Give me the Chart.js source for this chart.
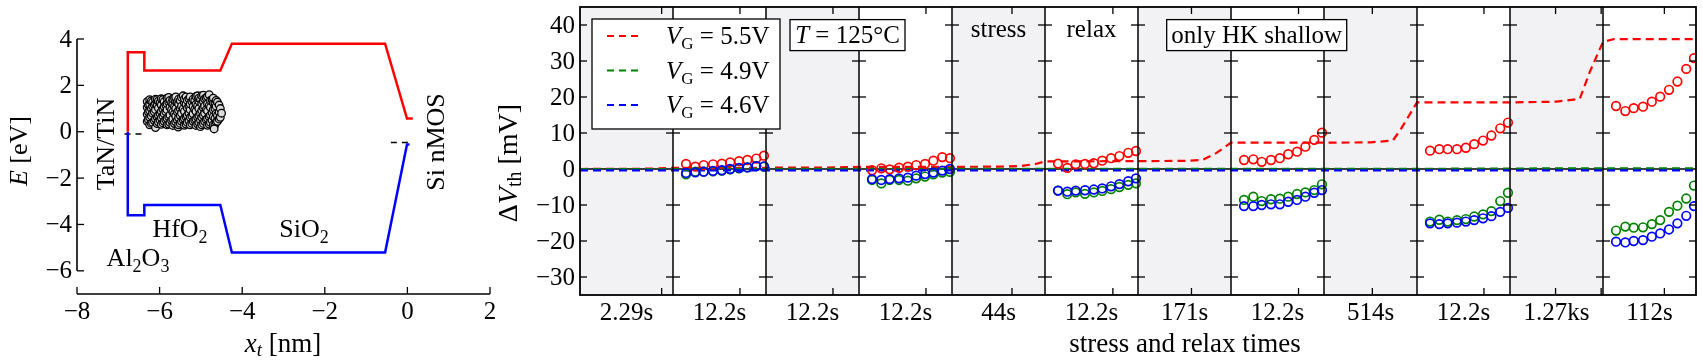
<!DOCTYPE html>
<html>
<head>
<meta charset="utf-8">
<script src="https://cdn.jsdelivr.net/npm/chart.js@4.4.1/dist/chart.umd.min.js"></script>
<style>
  body { margin: 0; background: #fff; width: 1703px; height: 363px; position: relative; overflow: hidden; }
  canvas { position: absolute; top: 0; }
  #band { left: 0; }
  #dvth { left: 480px; }
</style>
</head>
<body>
<canvas id="band" width="530" height="363"></canvas>
<canvas id="dvth" width="1223" height="363"></canvas>
<script>
// ---------- left: band diagram ----------
const xtTicks = [-8, -6, -4, -2, 0, 2];
const eTicks = [4, 2, 0, -2, -4, -6];
const condBand = [[-6.77, 0], [-6.77, 3.43], [-6.37, 3.43], [-6.37, 2.64], [-4.53, 2.64], [-4.25, 3.80],
                  [-0.54, 3.80], [-0.01, 0.57], [0.13, 0.57]];
const valBand = [[-6.77, 0], [-6.77, -3.60], [-6.37, -3.60], [-6.37, -3.16], [-4.53, -3.16], [-4.25, -5.21],
                 [-0.54, -5.21], [-0.01, -0.55], [0.05, -0.55]];
const fermiGate = [[-6.85, -0.1], [-6.42, -0.1]];
const fermiSub = [[-0.40, -0.47], [0.02, -0.47]];
// defect positions (x in nm, energy in eV)
const traps = [
  [-6.30,0.45],[-6.30,0.75],[-6.30,1.05],[-6.30,1.30],
  [-6.27,0.52],[-6.27,0.85],[-6.27,1.15],
  [-6.24,0.30],[-6.24,0.62],[-6.24,0.92],[-6.24,1.18],[-6.24,1.38],
  [-6.20,0.36],[-6.20,0.68],[-6.20,1.00],[-6.20,1.33],
  [-6.17,0.40],[-6.17,0.80],[-6.17,1.10],[-6.17,1.28],
  [-6.13,0.48],[-6.13,0.86],[-6.13,1.16],
  [-6.10,0.18],[-6.10,0.55],[-6.10,0.95],[-6.10,1.22],[-6.10,1.40],
  [-6.06,0.35],[-6.06,0.63],[-6.06,1.12],[-6.06,1.38],
  [-6.03,0.42],[-6.03,0.70],[-6.03,1.02],[-6.03,1.32],
  [-5.99,0.50],[-5.99,0.78],[-5.99,1.25],
  [-5.96,0.32],[-5.96,0.60],[-5.96,0.88],[-5.96,1.15],[-5.96,1.42],
  [-5.92,0.38],[-5.92,0.68],[-5.92,0.98],[-5.92,1.38],
  [-5.89,0.45],[-5.89,0.78],[-5.89,1.08],[-5.89,1.30],
  [-5.85,0.52],[-5.85,0.86],[-5.85,1.15],
  [-5.82,0.30],[-5.82,0.58],[-5.82,0.95],[-5.82,1.22],[-5.82,1.45],
  [-5.78,0.33],[-5.78,0.64],[-5.78,1.28],[-5.78,1.48],
  [-5.75,0.40],[-5.75,0.72],[-5.75,1.05],[-5.75,1.35],
  [-5.71,0.48],[-5.71,0.95],[-5.71,1.25],
  [-5.68,0.27],[-5.68,0.55],[-5.68,0.85],[-5.68,1.18],[-5.68,1.42],
  [-5.64,0.35],[-5.64,0.78],[-5.64,1.10],[-5.64,1.45],
  [-5.61,0.43],[-5.61,0.68],[-5.61,1.00],[-5.61,1.30],[-5.61,1.50],
  [-5.57,0.50],[-5.57,0.85],[-5.57,1.28],
  [-5.55,0.20],[-5.54,0.30],[-5.54,0.60],[-5.54,0.92],[-5.54,1.20],[-5.54,1.40],
  [-5.50,0.36],[-5.50,0.70],[-5.50,1.00],[-5.50,1.35],
  [-5.47,0.45],[-5.47,0.80],[-5.47,1.10],[-5.47,1.48],
  [-5.43,0.52],[-5.43,0.98],[-5.43,1.55],
  [-5.40,0.28],[-5.40,0.58],[-5.40,0.88],[-5.40,1.25],[-5.40,1.42],
  [-5.36,0.33],[-5.36,0.64],[-5.36,1.18],[-5.36,1.50],
  [-5.33,0.40],[-5.33,0.70],[-5.33,1.02],[-5.33,1.35],
  [-5.29,0.48],[-5.29,0.80],[-5.29,1.10],[-5.29,1.42],
  [-5.26,0.30],[-5.26,0.62],[-5.26,0.95],[-5.26,1.20],[-5.26,1.50],
  [-5.22,0.36],[-5.22,0.68],[-5.22,1.30],
  [-5.19,0.45],[-5.19,0.78],[-5.19,1.08],[-5.19,1.40],
  [-5.15,0.50],[-5.15,0.96],[-5.15,1.35],
  [-5.12,0.27],[-5.12,0.55],[-5.12,0.88],[-5.12,1.18],[-5.12,1.52],
  [-5.08,0.33],[-5.08,0.62],[-5.08,1.12],[-5.08,1.55],
  [-5.05,0.40],[-5.05,0.70],[-5.05,1.00],[-5.05,1.32],[-5.05,1.45],
  [-5.01,0.22],[-5.01,0.50],[-5.01,0.78],[-5.01,1.40],
  [-4.98,0.30],[-4.98,0.62],[-4.98,0.92],[-4.98,1.22],[-4.98,1.55],
  [-4.94,0.36],[-4.94,0.70],[-4.94,1.02],[-4.94,1.30],[-4.94,1.58],
  [-4.91,0.45],[-4.91,0.80],[-4.91,1.10],[-4.91,1.42],
  [-4.87,0.52],[-4.87,0.95],[-4.87,1.45],
  [-4.84,0.28],[-4.84,0.58],[-4.84,0.90],[-4.84,1.20],[-4.84,1.52],
  [-4.80,0.33],[-4.80,0.65],[-4.80,1.12],[-4.80,1.60],
  [-4.77,0.40],[-4.77,0.72],[-4.77,1.05],[-4.77,1.35],
  [-4.73,0.50],[-4.73,0.82],[-4.73,1.38],
  [-4.70,0.30],[-4.70,0.65],[-4.70,0.95],[-4.70,1.25],[-4.70,1.45],
  [-4.66,0.30],[-4.66,0.58],[-4.66,1.00],[-4.66,1.25],
  [-4.63,0.42],[-4.63,0.78],[-4.63,1.10],[-4.63,1.35],
  [-4.60,0.45],[-4.60,0.70],[-4.60,1.28],
  [-4.56,0.55],[-4.56,0.85],[-4.56,1.15],
  [-4.53,0.62],[-4.53,1.00],[-4.50,0.80],
  [-4.68,0.12]
];

// ---------- right: threshold voltage shift ----------
const panelLabels = ['2.29s', '12.2s', '12.2s', '12.2s', '44s', '12.2s', '171s', '12.2s', '514s', '12.2s', '1.27ks', '112s'];
const stressPanels = [0, 2, 4, 6, 8, 10];
const relaxPanels = [1, 3, 5, 7, 9, 11];
const relaxPos = [0.14, 0.24, 0.33, 0.43, 0.525, 0.615, 0.71, 0.80, 0.895, 0.978];
const timeTicks = [0.878, 1.72, 2.72, 3.72, 4.645, 5.73, 6.575, 7.726, 8.52, 9.72, 10.49, 10.98, 11.66];
const dvTicks = [40, 30, 20, 10, 0, -10, -20, -30];

const red55 = [
  [1.4, 0.65, 1.1, 1.3, 1.5, 1.85, 2.2, 2.5, 2.9, 3.7],
  [-0.35, 0.2, -0.1, 0.35, 0.65, 1.1, 1.4, 2.3, 3.3, 3.0],
  [1.5, 0.3, 1.3, 1.4, 1.6, 2.3, 3.0, 3.6, 4.5, 5.0],
  [2.5, 2.7, 2.0, 2.5, 3.0, 4.1, 4.8, 6.2, 8.1, 10.1],
  [5.1, 5.5, 5.5, 5.5, 5.9, 6.9, 7.9, 9.3, 11.3, 12.9],
  [17.5, 16.1, 16.9, 17.3, 18.7, 20.1, 22.0, 24.3, 27.8, 30.8]
];
const green49 = [
  [-1.5, -0.75, -0.75, -0.65, -0.45, -0.1, 0.2, 0.45, 0.8, 0.65],
  [-3.05, -4.0, -3.05, -3.05, -3.25, -2.6, -2.1, -1.5, -1.0, -0.8],
  [-6.0, -7.0, -6.5, -6.9, -6.5, -6.1, -5.6, -5.0, -4.4, -4.0],
  [-8.6, -7.7, -8.9, -8.4, -8.25, -7.7, -6.95, -6.5, -5.85, -4.25],
  [-14.6, -14.1, -14.6, -14.2, -13.9, -13.2, -12.6, -11.7, -8.9, -6.6],
  [-17.1, -16.0, -16.3, -16.2, -15.3, -14.2, -11.9, -10.2, -8.2, -4.6]
];
const blue46 = [
  [-1.1, -0.95, -0.75, -0.55, -0.35, 0.0, 0.3, 0.45, 0.8, 0.75],
  [-2.8, -3.05, -2.8, -2.6, -2.4, -1.85, -1.4, -1.0, -0.45, 0.0],
  [-6.0, -6.3, -6.0, -5.9, -5.7, -5.4, -4.8, -4.2, -3.4, -2.6],
  [-10.3, -10.3, -10.0, -9.8, -9.8, -9.1, -8.6, -7.7, -6.6, -5.85],
  [-15.1, -15.3, -15.1, -14.9, -14.6, -14.2, -13.7, -13.1, -11.9, -10.8],
  [-20.2, -20.4, -20.0, -19.75, -18.8, -17.9, -16.8, -15.1, -13.0, -10.3]
];
// model curves, [panel coordinate, mV]
const red55Model = [[0, 0], [0.6, 0.05], [0.85, 0.15], [1, 0.35], [2, 0.35], [2.6, 0.4], [2.85, 0.5], [3, 0.6],
  [4, 0.6], [4.5, 0.65], [4.73, 0.8], [4.9, 1.4], [5, 2.1], [6, 2.2], [6.5, 2.25], [6.69, 2.5], [6.84, 4.4], [7, 7.3],
  [8, 7.3], [8.5, 7.4], [8.74, 7.9], [8.82, 10.8], [9, 18.5], [10, 18.5], [10.5, 18.7], [10.75, 19.5], [10.86, 27.1],
  [11, 35.3], [11.12, 36.1], [12, 36.1]];
const green49Model = [[0, 0], [9, 0.05], [11, 0.2], [12, 0.2]];
const blue46Model = [[0, -0.4], [12, -0.4]];

const RED = '#ff0000', GREEN = '#008000', BLUE = '#0000ff';
const FAM = '"Liberation Serif", "DejaVu Serif", serif';
const TICK = 25;
const F = (size, style) => (style ? style + ' ' : '') + size + 'px ' + FAM;
const minus = v => (v < 0 ? '\u2212' + (-v) : String(v));
const xy = arr => arr.map(p => ({ x: p[0], y: p[1] }));

function richText(ctx, parts, x, y, align) {
  let w = 0;
  parts.forEach(p => { ctx.font = p[1]; w += ctx.measureText(p[0]).width; });
  let cx = align === 'center' ? x - w / 2 : x;
  parts.forEach(p => {
    ctx.font = p[1];
    ctx.fillText(p[0], cx, y + (p[2] || 0));
    cx += ctx.measureText(p[0]).width;
  });
}
function rotText(ctx, parts, cx, cy) {
  ctx.save();
  ctx.translate(cx, cy);
  ctx.rotate(-Math.PI / 2);
  ctx.textBaseline = 'middle';
  richText(ctx, parts, 0, 0, 'center');
  ctx.restore();
}
function seg(ctx, x1, y1, x2, y2) {
  ctx.beginPath(); ctx.moveTo(x1, y1); ctx.lineTo(x2, y2); ctx.stroke();
}
// tick labels drawn with the serif font, at the scales' pixel positions
function yLabels(ctx, scale, values, xRight) {
  ctx.font = F(TICK);
  ctx.textAlign = 'right';
  ctx.textBaseline = 'middle';
  values.forEach(v => ctx.fillText(minus(v), xRight, scale.getPixelForValue(v) + 1));
}
function xLabels(ctx, scale, values, texts, yBase) {
  ctx.font = F(TICK);
  ctx.textAlign = 'center';
  ctx.textBaseline = 'alphabetic';
  values.forEach((v, i) => ctx.fillText(texts[i], scale.getPixelForValue(v), yBase));
}

const bandDecor = {
  id: 'bandDecor',
  afterDraw(chart) {
    const { ctx, scales: { x, y } } = chart;
    ctx.save();
    ctx.strokeStyle = '#000';
    ctx.lineWidth = 1.6;
    const xl = x.getPixelForValue(-8), yb = y.getPixelForValue(-7);
    seg(ctx, xl, yb, x.getPixelForValue(2), yb);
    seg(ctx, xl, y.getPixelForValue(4), xl, y.getPixelForValue(-6));
    ctx.lineWidth = 1.3;
    eTicks.forEach(v => { const p = y.getPixelForValue(v); seg(ctx, xl, p, xl + 7, p); });
    xtTicks.forEach(v => { const p = x.getPixelForValue(v); seg(ctx, p, yb, p, yb - 7); });

    ctx.fillStyle = '#000';
    yLabels(ctx, y, eTicks, xl - 5);
    xLabels(ctx, x, xtTicks, xtTicks.map(minus), yb + 25);
    ctx.textAlign = 'left';
    // axis titles
    rotText(ctx, [['E', F(26, 'italic')], [' [eV]', F(26)]], 20, 151);
    ctx.textBaseline = 'middle';
    richText(ctx, [['x', F(27, 'italic')], ['t', F(19, 'italic'), 6], [' [nm]', F(27)]], 283, 345, 'center');
    // material labels
    rotText(ctx, [['TaN/TiN', F(26)]], 107, 144);
    rotText(ctx, [['Si nMOS', F(26)]], 437, 142);
    ctx.textBaseline = 'alphabetic';
    richText(ctx, [['HfO', F(26)], ['2', F(18), 6]], 180, 237, 'center');
    richText(ctx, [['SiO', F(26)], ['2', F(18), 6]], 304, 237, 'center');
    richText(ctx, [['Al', F(26)], ['2', F(18), 6], ['O', F(26)], ['3', F(18), 6]], 138, 266, 'center');
    ctx.restore();
  }
};

const hiddenTicks = { display: false };

new Chart(document.getElementById('band'), {
  type: 'scatter',
  data: {
    datasets: [
      { data: xy(traps), showLine: false, pointRadius: 3.8, borderWidth: 1.3, borderColor: '#000', backgroundColor: '#dcdcdc' },
      { data: xy(condBand), showLine: true, pointRadius: 0, borderColor: RED, borderWidth: 2.5, fill: false },
      { data: xy(valBand), showLine: true, pointRadius: 0, borderColor: BLUE, borderWidth: 2.5, fill: false },
      { data: xy(fermiGate), showLine: true, pointRadius: 0, borderColor: '#000', borderWidth: 1.5, borderDash: [6, 5] },
      { data: xy(fermiSub), showLine: true, pointRadius: 0, borderColor: '#000', borderWidth: 1.5, borderDash: [6, 5] }
    ]
  },
  options: {
    responsive: false,
    animation: false,
    layout: { padding: { left: 0, right: 40, top: 39, bottom: 0 } },
    plugins: { legend: { display: false }, tooltip: { enabled: false } },
    scales: {
      x: {
        type: 'linear', min: -8, max: 2,
        afterFit: s => { s.height = 69; },
        grid: { display: false }, border: { display: false }, ticks: hiddenTicks
      },
      y: {
        type: 'linear', min: -7, max: 4,
        afterFit: s => { s.width = 77; },
        grid: { display: false }, border: { display: false }, ticks: hiddenTicks
      }
    }
  },
  plugins: [bandDecor]
});

// ---------- right chart ----------
function measPoints(rows) {
  const pts = [];
  rows.forEach((row, j) => row.forEach((v, i) => pts.push({ x: relaxPanels[j] + relaxPos[i], y: v })));
  return pts;
}

const legendItems = [[RED, '5.5V'], [GREEN, '4.9V'], [BLUE, '4.6V']];

const panelDecor = {
  id: 'panelDecor',
  beforeDatasetsDraw(chart) {
    const { ctx, chartArea: a, scales: { x, y } } = chart;
    ctx.save();
    ctx.fillStyle = '#f2f2f4';
    stressPanels.forEach(k => {
      const l = x.getPixelForValue(k), r = x.getPixelForValue(k + 1);
      ctx.fillRect(l, a.top, r - l, a.bottom - a.top);
    });
    ctx.strokeStyle = '#000';
    ctx.lineWidth = 1.5;
    const y0 = y.getPixelForValue(0);
    seg(ctx, a.left, y0, a.right, y0);
    ctx.restore();
  },
  afterDatasetsDraw(chart) {
    const { ctx, chartArea: a, scales: { x, y } } = chart;
    ctx.save();
    ctx.strokeStyle = '#000';
    // panel dividers
    ctx.lineWidth = 1.5;
    for (let k = 1; k < panelLabels.length; k++) {
      const p = x.getPixelForValue(k);
      seg(ctx, p, a.top, p, a.bottom);
    }
    ctx.lineWidth = 1.8;
    ctx.strokeRect(a.left, a.top, a.right - a.left, a.bottom - a.top);
    // ticks
    ctx.lineWidth = 1.3;
    dvTicks.forEach(v => {
      if (v === 0) return;
      const p = y.getPixelForValue(v);
      seg(ctx, a.left, p, a.left + 7, p);
      seg(ctx, a.right, p, a.right - 7, p);
      for (let k = 1; k < panelLabels.length; k++) {
        const q = x.getPixelForValue(k);
        seg(ctx, q - 7, p, q + 7, p);
      }
    });
    timeTicks.forEach(t => {
      const q = x.getPixelForValue(t);
      seg(ctx, q, a.bottom, q, a.bottom - 7);
      seg(ctx, q, a.top, q, a.top + 7);
    });

    ctx.fillStyle = '#000';
    yLabels(ctx, y, dvTicks, a.left - 5);
    xLabels(ctx, x, panelLabels.map((l, i) => i + 0.5), panelLabels, a.bottom + 25);
    ctx.textAlign = 'left';

    // legend
    const lx = a.left + 12, ly = a.top + 12;
    ctx.fillStyle = '#fff';
    ctx.fillRect(lx, ly, 188, 110);
    ctx.lineWidth = 1.3;
    ctx.strokeRect(lx, ly, 188, 110);
    legendItems.forEach((it, i) => {
      const yy = ly + 17 + i * 34.5;
      ctx.strokeStyle = it[0];
      ctx.lineWidth = 2.2;
      ctx.setLineDash([7, 5]);
      seg(ctx, lx + 15, yy, lx + 47, yy);
      ctx.setLineDash([]);
      ctx.fillStyle = '#000';
      ctx.textBaseline = 'alphabetic';
      richText(ctx, [['V', F(25, 'italic')], ['G', F(17), 5], [' = ' + it[1], F(25)]], lx + 74, yy + 8, 'left');
    });
    ctx.strokeStyle = '#000';

    // temperature box
    ctx.lineWidth = 1.3;
    ctx.fillStyle = '#fff';
    ctx.fillRect(a.left + 210, a.top + 12.6, 115, 31);
    ctx.strokeRect(a.left + 210, a.top + 12.6, 115, 31);
    ctx.fillStyle = '#000';
    ctx.textBaseline = 'middle';
    richText(ctx, [['T', F(25, 'italic')], [' = 125°C', F(25)]], a.left + 267.5, a.top + 29, 'center');

    // stress / relax labels
    ctx.font = F(25);
    ctx.textAlign = 'center';
    ctx.fillText('stress', x.getPixelForValue(4.5), a.top + 23);
    ctx.fillText('relax', x.getPixelForValue(5.5), a.top + 23);
    ctx.textAlign = 'left';

    // shallow box
    ctx.fillStyle = '#fff';
    ctx.fillRect(a.left + 586.7, a.top + 12.6, 180, 31);
    ctx.strokeRect(a.left + 586.7, a.top + 12.6, 180, 31);
    ctx.fillStyle = '#000';
    richText(ctx, [['only HK shallow', F(25)]], a.left + 676.7, a.top + 29, 'center');

    // axis titles
    rotText(ctx, [['\u0394', F(28)], ['V', F(28, 'italic')], ['th', F(20), 6], [' [mV]', F(28)]], 30, 163);
    ctx.textBaseline = 'middle';
    richText(ctx, [['stress and relax times', F(27)]], 705, 345, 'center');
    ctx.restore();
  }
};

const circle = (rows, color) => ({
  data: measPoints(rows), showLine: false, pointRadius: 4.3, pointBorderWidth: 1.7,
  borderColor: color, backgroundColor: 'rgba(0,0,0,0)'
});
const model = (arr, color) => ({
  data: xy(arr), showLine: true, pointRadius: 0, borderColor: color, borderWidth: 2.2,
  borderDash: [8, 5], fill: false
});

new Chart(document.getElementById('dvth'), {
  type: 'scatter',
  data: {
    datasets: [
      circle(blue46, BLUE),
      circle(green49, GREEN),
      circle(red55, RED),
      model(blue46Model, BLUE),
      model(green49Model, GREEN),
      model(red55Model, RED)
    ]
  },
  options: {
    responsive: false,
    animation: false,
    layout: { padding: { left: 0, right: 7, top: 7, bottom: 0 } },
    plugins: { legend: { display: false }, tooltip: { enabled: false } },
    scales: {
      x: {
        type: 'linear', min: 0, max: 12,
        afterFit: s => { s.height = 68; },
        grid: { display: false }, border: { display: false }, ticks: hiddenTicks
      },
      y: {
        type: 'linear', min: -35, max: 45,
        afterFit: s => { s.width = 100; },
        grid: { display: false }, border: { display: false }, ticks: hiddenTicks
      }
    }
  },
  plugins: [panelDecor]
});
</script>
</body>
</html>
